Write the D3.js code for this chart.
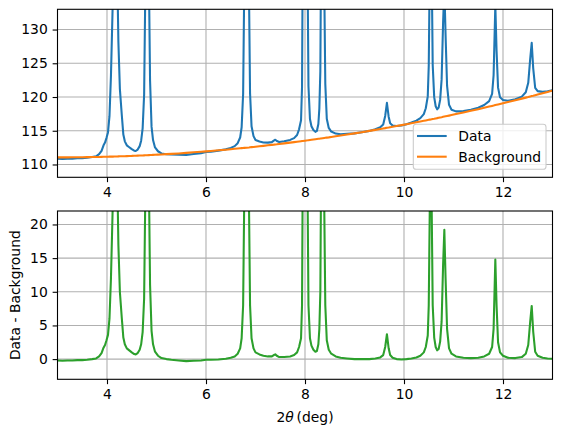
<!DOCTYPE html>
<html>
<head>
<meta charset="utf-8">
<script src="https://cdn.jsdelivr.net/npm/d3@7"></script>
<style>
  body { margin: 0; background: #fff; }
  svg { display: block; font-family: "DejaVu Sans", sans-serif; }
</style>
</head>
<body>
<div id="chart"></div>
<script>
// data
const twoTheta = [
  3.00, 3.10, 3.20, 3.30, 3.40, 3.50, 3.60, 3.70, 3.78, 3.84,
  3.89, 3.93, 3.96, 3.99, 4.02, 4.05, 4.08, 4.10, 4.12, 4.15,
  4.18, 4.21, 4.23, 4.26, 4.30, 4.33, 4.36, 4.40, 4.45, 4.50,
  4.55, 4.58, 4.62, 4.66, 4.69, 4.72, 4.75, 4.77, 4.81, 4.85,
  4.87, 4.90, 4.93, 4.97, 5.03, 5.10, 5.20, 5.30, 5.45, 5.60,
  5.75, 5.90, 6.00, 6.10, 6.25, 6.40, 6.50, 6.58, 6.64, 6.69,
  6.72, 6.75, 6.77, 6.82, 6.87, 6.89, 6.92, 6.96, 7.00, 7.08,
  7.16, 7.25, 7.33, 7.37, 7.40, 7.43, 7.48, 7.58, 7.70, 7.78,
  7.84, 7.88, 7.92, 7.94, 7.95, 8.00, 8.055, 8.07, 8.10, 8.13,
  8.17, 8.21, 8.24, 8.27, 8.29, 8.31, 8.32, 8.355, 8.39, 8.41,
  8.44, 8.48, 8.53, 8.62, 8.72, 8.85, 9.00, 9.15, 9.30, 9.42,
  9.52, 9.58, 9.62, 9.655, 9.69, 9.72, 9.77, 9.85, 9.95, 10.05,
  10.15, 10.25, 10.33, 10.40, 10.44, 10.48, 10.50, 10.52, 10.54, 10.56,
  10.58, 10.61, 10.64, 10.67, 10.70, 10.73, 10.76, 10.79, 10.815, 10.84,
  10.87, 10.91, 10.96, 11.05, 11.20, 11.35, 11.50, 11.62, 11.72, 11.78,
  11.81, 11.845, 11.87, 11.90, 11.94, 12.00, 12.10, 12.25, 12.38, 12.46,
  12.51, 12.55, 12.58, 12.61, 12.65, 12.70, 12.80, 12.90, 13.00
];

// Data - Background
const difference = [
  -0.2, -0.25, -0.2, -0.2, -0.15, -0.15, -0.1, 0.0, 0.1, 0.4,
  0.9, 1.7, 2.1, 2.8, 3.6, 6.0, 12, 18, 24, 45,
  50, 26, 17, 10, 6.0, 3.2, 2.2, 1.6, 1.3, 1.0,
  0.75, 0.7, 0.9, 1.4, 2.2, 4.0, 9.0, 22, 80, 24,
  11, 4.2, 2.2, 1.1, 0.5, 0.15, 0.0, -0.1, -0.2, -0.3,
  -0.25, -0.2, -0.1, -0.1, -0.05, 0.05, 0.2, 0.4, 0.8, 1.6,
  3.1, 8.0, 22, 90, 22, 8.0, 3.1, 1.6, 1.0, 0.7,
  0.5, 0.4, 0.4, 0.6, 0.7, 0.5, 0.3, 0.3, 0.4, 0.6,
  1.0, 1.8, 3.1, 8.0, 22, 80, 22, 8.0, 3.1, 2.0,
  1.4, 1.1, 1.2, 2.2, 4.5, 10, 22, 70, 22, 8.0,
  2.8, 1.4, 0.8, 0.4, 0.2, 0.1, 0.0, 0.0, 0.0, 0.1,
  0.25, 0.6, 1.8, 3.7, 1.6, 0.6, 0.2, 0.0, -0.05, 0.0,
  0.1, 0.25, 0.5, 1.0, 1.8, 3.5, 8.0, 22, 40, 22,
  8.0, 3.2, 1.8, 1.3, 1.5, 2.6, 5.6, 14, 19.2, 12,
  4.5, 1.6, 0.8, 0.4, 0.2, 0.15, 0.2, 0.4, 0.8, 1.8,
  4.5, 14.8, 8.0, 2.5, 1.0, 0.5, 0.2, 0.15, 0.3, 0.8,
  2.1, 5.6, 7.9, 4.1, 1.1, 0.5, 0.2, 0.1, 0.05
];

const background = [
  111.05, 111.05, 111.05, 111.06, 111.07, 111.07, 111.09, 111.10, 111.11, 111.12,
  111.13, 111.14, 111.14, 111.15, 111.15, 111.16, 111.17, 111.17, 111.17, 111.18,
  111.19, 111.19, 111.20, 111.21, 111.22, 111.23, 111.23, 111.24, 111.26, 111.27,
  111.29, 111.30, 111.31, 111.32, 111.33, 111.34, 111.35, 111.36, 111.37, 111.39,
  111.40, 111.41, 111.42, 111.43, 111.46, 111.49, 111.53, 111.57, 111.64, 111.72,
  111.80, 111.88, 111.94, 112.00, 112.10, 112.19, 112.26, 112.32, 112.36, 112.40,
  112.42, 112.44, 112.46, 112.49, 112.53, 112.55, 112.57, 112.60, 112.63, 112.70,
  112.76, 112.84, 112.91, 112.94, 112.97, 112.99, 113.04, 113.13, 113.24, 113.31,
  113.37, 113.41, 113.45, 113.47, 113.48, 113.53, 113.58, 113.60, 113.63, 113.66,
  113.70, 113.74, 113.77, 113.80, 113.82, 113.84, 113.85, 113.89, 113.93, 113.95,
  113.98, 114.02, 114.08, 114.18, 114.29, 114.44, 114.61, 114.79, 114.98, 115.13,
  115.26, 115.34, 115.39, 115.44, 115.48, 115.52, 115.59, 115.70, 115.83, 115.97,
  116.11, 116.25, 116.37, 116.47, 116.53, 116.59, 116.62, 116.65, 116.68, 116.71,
  116.74, 116.78, 116.83, 116.87, 116.92, 116.97, 117.01, 117.06, 117.10, 117.14,
  117.18, 117.24, 117.32, 117.47, 117.71, 117.95, 118.20, 118.41, 118.58, 118.68,
  118.73, 118.80, 118.84, 118.89, 118.96, 119.07, 119.25, 119.52, 119.76, 119.91,
  120.00, 120.08, 120.14, 120.19, 120.27, 120.37, 120.56, 120.75, 120.95
];

const xTicks = [4, 6, 8, 10, 12];
const topTicks = [110, 115, 120, 125, 130];
const bottomTicks = [0, 5, 10, 15, 20];
const legendLabels = ["Data", "Background"];

const width = 562, height = 436;
const left = 57.5, right = 552.5;
const fontSize = 13.9;
const lw = 2.08;
const tick = 4.86;
const colors = { data: "#1f77b4", bg: "#ff7f0e", diff: "#2ca02c" };

const rows = twoTheta.map((t, i) => ({
  t: t,
  bg: background[i],
  diff: difference[i],
  data: background[i] + difference[i]
}));

const svg = d3.select("#chart").append("svg")
  .attr("width", width)
  .attr("height", height);

const x = d3.scaleLinear().domain([3, 13]).range([left, right]);

function panel(name, top, bottom, domain, ticks, series, withLegend) {
  const y = d3.scaleLinear().domain(domain).range([bottom, top]);
  const g = svg.append("g");

  svg.append("clipPath").attr("id", "clip-" + name)
    .append("rect")
    .attr("x", left).attr("y", top)
    .attr("width", right - left).attr("height", bottom - top);

  // grid
  g.selectAll(".vg").data(xTicks).join("line")
    .attr("x1", d => x(d)).attr("x2", d => x(d))
    .attr("y1", top).attr("y2", bottom)
    .attr("stroke", "#b0b0b0").attr("stroke-width", 1.1);
  g.selectAll(".hg").data(ticks).join("line")
    .attr("x1", left).attr("x2", right)
    .attr("y1", d => y(d)).attr("y2", d => y(d))
    .attr("stroke", "#b0b0b0").attr("stroke-width", 1.1);

  const lines = g.append("g").attr("clip-path", `url(#clip-${name})`);
  series.forEach(s => {
    lines.append("path")
      .datum(rows)
      .attr("fill", "none")
      .attr("stroke", s.color)
      .attr("stroke-width", lw)
      .attr("stroke-linejoin", "round")
      .attr("d", d3.line().x(d => x(d.t)).y(d => y(d[s.key])));
  });

  // axes
  const xa = g.append("g").attr("transform", `translate(0,${bottom})`)
    .call(d3.axisBottom(x).tickValues(xTicks).tickSize(tick).tickPadding(tick));
  const ya = g.append("g").attr("transform", `translate(${left},0)`)
    .call(d3.axisLeft(y).tickValues(ticks).tickSize(tick).tickPadding(tick));
  [xa, ya].forEach(a => {
    a.select(".domain").remove();
    a.selectAll("line").attr("stroke", "#000").attr("stroke-width", 1.1);
    a.selectAll("text").attr("fill", "#000")
      .style("font-size", fontSize + "px")
      .style("font-family", "DejaVu Sans");
  });

  g.append("rect")
    .attr("x", left).attr("y", top)
    .attr("width", right - left).attr("height", bottom - top)
    .attr("fill", "none").attr("stroke", "#000").attr("stroke-width", 1.1);

  if (withLegend) {
    const lg = g.append("g");
    lg.append("rect")
      .attr("x", 413.3).attr("y", 124.3)
      .attr("width", 132.7).attr("height", 45)
      .attr("rx", 2.8)
      .attr("fill", "#fff").attr("fill-opacity", 0.8)
      .attr("stroke", "#cccccc").attr("stroke-width", 1.1);
    legendLabels.forEach((lab, i) => {
      const yy = 136 + i * 20.7;
      lg.append("line")
        .attr("x1", 417).attr("x2", 446.7)
        .attr("y1", yy).attr("y2", yy)
        .attr("stroke", series[i].color).attr("stroke-width", lw);
      lg.append("text")
        .attr("x", 458.3).attr("y", yy)
        .attr("dy", "0.35em")
        .style("font-size", fontSize + "px")
        .text(lab);
    });
  }
  return g;
}

panel("top", 9.3, 177.3, [108.1, 133], topTicks,
  [{ key: "data", color: colors.data }, { key: "bg", color: colors.bg }], true);
panel("bottom", 211, 379.3, [-3, 22], bottomTicks,
  [{ key: "diff", color: colors.diff }], false);

// axis labels
svg.append("text")
  .attr("transform", `translate(20,${(211 + 379.3) / 2}) rotate(-90)`)
  .attr("text-anchor", "middle")
  .style("font-size", fontSize + "px")
  .text("Data - Background");

const xl = svg.append("text")
  .attr("x", (left + right) / 2).attr("y", 421.5)
  .attr("text-anchor", "middle")
  .style("font-size", fontSize + "px");
xl.append("tspan").text("2");
xl.append("tspan").style("font-style", "italic").text("θ");
xl.append("tspan").text("\u2009(deg)");
</script>
</body>
</html>
